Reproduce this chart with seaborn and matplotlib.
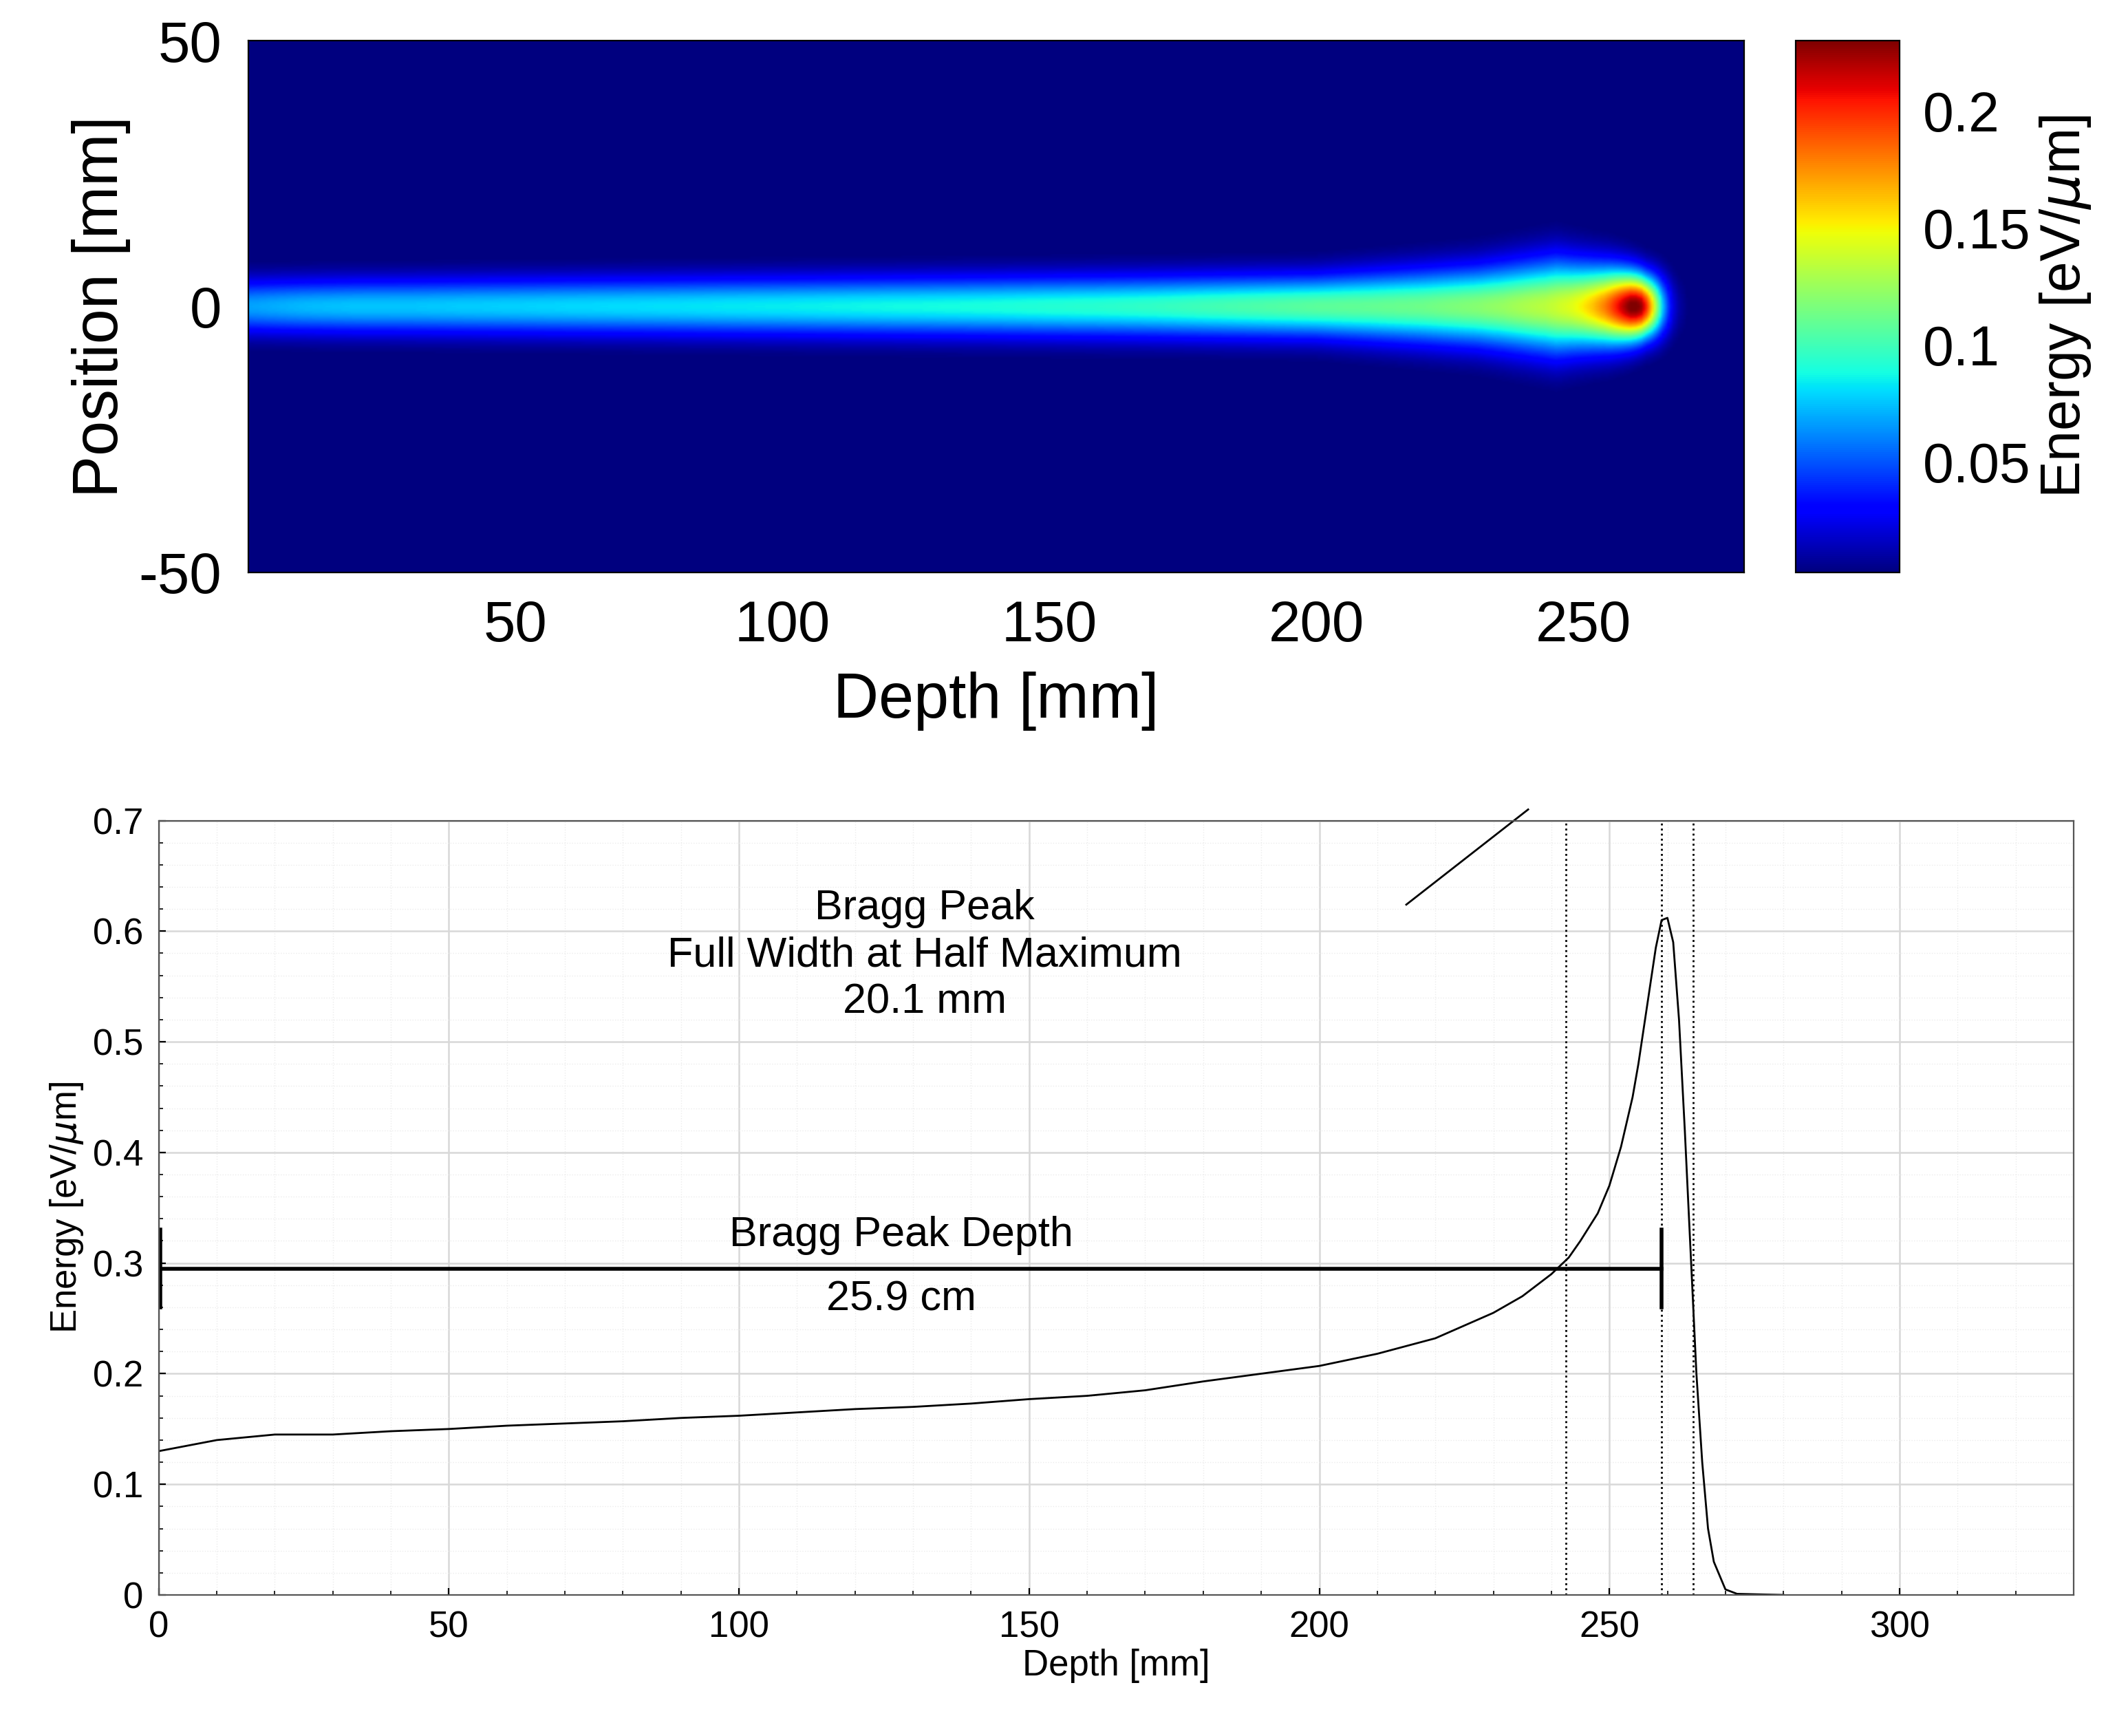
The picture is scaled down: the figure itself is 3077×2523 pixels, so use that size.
import numpy as np
import matplotlib
matplotlib.use("Agg")
import matplotlib.pyplot as plt
import seaborn as sns
import pandas as pd

# depth-dose curve
depth = [0,5,10,20,30,40,50,60,70,80,90,100,110,120,130,140,150,160,170,180,190,200,210,220,230,235,240,243,245,248,250,252,254,255,256,257,258,259,260,261,262,263,264,265,266,267,268,270,272,280]
energy = [0.13,0.135,0.14,0.145,0.145,0.148,0.15,0.153,0.155,0.157,0.16,0.162,0.165,0.168,0.17,0.173,0.177,0.18,0.185,0.193,0.2,0.207,0.218,0.232,0.255,0.27,0.29,0.305,0.32,0.345,0.37,0.405,0.45,0.48,0.515,0.55,0.585,0.61,0.612,0.59,0.52,0.42,0.31,0.2,0.12,0.06,0.03,0.005,0.001,0.0]
# lateral width (sigma, mm) and map scaling along depth for the 2D map
sig_depth = [0,200,230,245,255,262,280]
sig_vals = [3.5,4.0,5.0,6.0,5.0,4.0,4.0]
scale_depth = [0,200,240,258,280]
scale_vals = [0.52,0.52,0.45,0.38,0.38]
fwhm_lines = [242.5, 259.0, 264.5]
peak_depth = 259.0

plt.rcParams["font.family"] = "Liberation Sans"
plt.rcParams["axes.unicode_minus"] = False
fig = plt.figure(figsize=(15.385, 12.615), dpi=200)
W, H = 1560, 1280
def rect(x0, y0, x1, y1):
    return [x0/W, 1-y1/H, (x1-x0)/W, (y1-y0)/H]

ax1 = fig.add_axes(rect(183, 30, 1285, 422))
cax = fig.add_axes(rect(1323, 30, 1400, 422))
ax2 = fig.add_axes(rect(117, 605, 1528, 1176))

# top map
xs = np.linspace(0, 280, 561)
ys = np.linspace(-50, 50, 401)
c = np.interp(xs, depth, energy) * np.interp(xs, scale_depth, scale_vals)
s = np.interp(xs, sig_depth, sig_vals)
Z = c[None, :] * np.exp(-0.5 * (ys[:, None] / s[None, :])**2)
im = ax1.imshow(Z, extent=[0, 280, -50, 50], origin="lower", aspect="auto",
                cmap="jet", vmin=0.003, vmax=0.23, interpolation="bilinear")
ax1.set_xticks([50,100,150,200,250]); ax1.set_yticks([-50,0,50])
ax1.tick_params(labelsize=30, length=0, pad=14)
ax1.set_xlabel("Depth [mm]", fontsize=33, labelpad=10)
ax1.set_ylabel("Position [mm]", fontsize=33)
cb = fig.colorbar(im, cax=cax, ticks=[0.05,0.1,0.15,0.2])
cb.ax.set_yticklabels(["0.05","0.1","0.15","0.2"])
cb.ax.tick_params(labelsize=29, length=0, pad=12)
cb.set_label(r"Energy [eV/$\mu$m]", fontsize=29)
cb.outline.set_linewidth(0.8)

# bottom curve
df = pd.DataFrame({"Depth": depth, "Energy": energy})
sns.lineplot(data=df, x="Depth", y="Energy", ax=ax2, color="black", lw=1.0)
ax2.set_xlim(0, 330); ax2.set_ylim(0, 0.7)
ax2.set_xticks(range(0, 301, 50)); ax2.set_yticks(np.arange(0, 0.71, 0.1))
ax2.set_yticklabels(["0","0.1","0.2","0.3","0.4","0.5","0.6","0.7"])
ax2.set_xticks(np.arange(0, 331, 10), minor=True)
ax2.set_yticks(np.arange(0, 0.701, 0.02), minor=True)
ax2.grid(True, which="major", color="#d8d8d8", lw=0.9)
ax2.grid(True, which="minor", color="#ececec", lw=0.5, ls=":")
ax2.tick_params(labelsize=19, direction="in", which="both", pad=8)
ax2.set_xlabel("Depth [mm]", fontsize=19, labelpad=2)
ax2.set_ylabel(r"Energy [eV/$\mu$m]", fontsize=19)
for v in fwhm_lines:
    ax2.axvline(v, color="black", ls=":", lw=1.0)
ax2.plot([0, peak_depth], [0.295, 0.295], color="black", lw=2.0)
ax2.plot([0.3, 0.3], [0.26, 0.33], color="black", lw=2.0)
ax2.plot([peak_depth, peak_depth], [0.26, 0.33], color="black", lw=2.0)
ax2.plot([215, 236], [0.624, 0.71], color="black", lw=1.0, clip_on=False)
ax2.text(132, 0.578, "Bragg Peak\nFull Width at Half Maximum\n20.1 mm", ha="center",
         va="center", fontsize=22, linespacing=1.25)
ax2.text(128, 0.325, "Bragg Peak Depth", ha="center", va="center", fontsize=22)
ax2.text(128, 0.267, "25.9 cm", ha="center", va="center", fontsize=22)
for sp in ax2.spines.values():
    sp.set_color("#555555")

fig.savefig("out.png", dpi=200)
